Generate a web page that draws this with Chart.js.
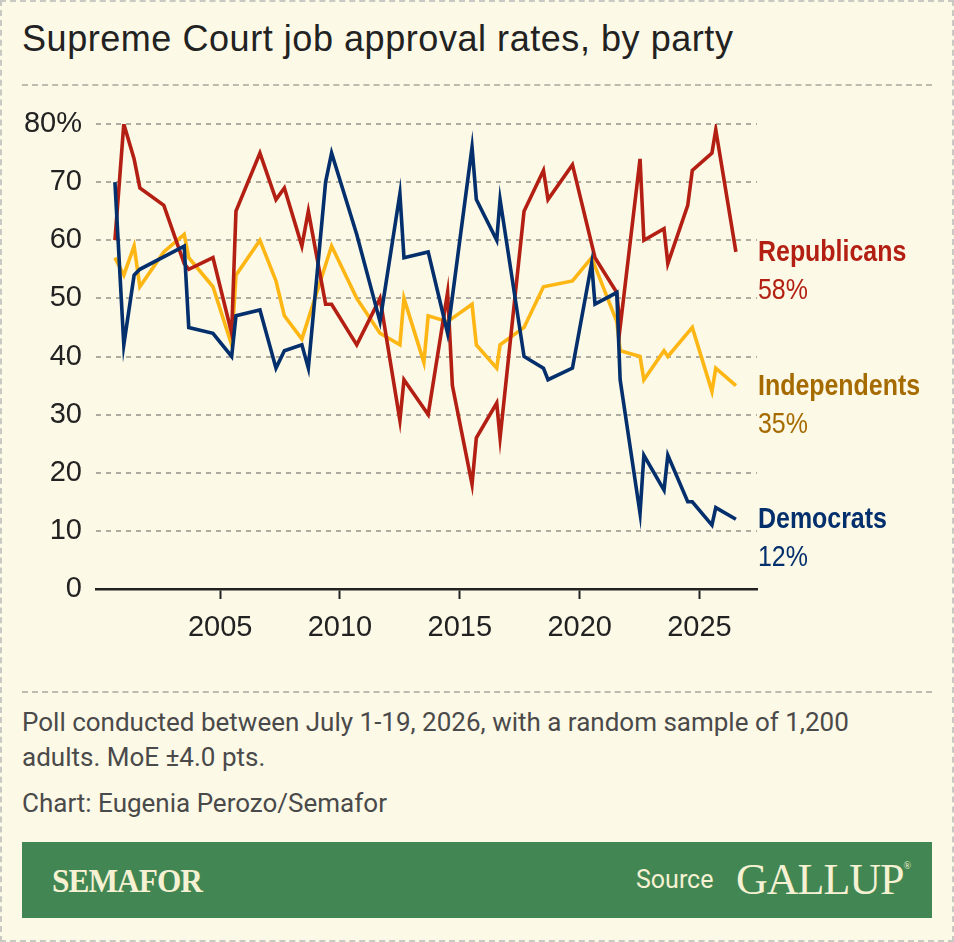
<!DOCTYPE html>
<html>
<head>
<meta charset="utf-8">
<script src="https://cdn.jsdelivr.net/npm/chart.js@4.4.1/dist/chart.umd.min.js"></script>
<style>
  html, body { margin: 0; padding: 0; }
  body { width: 954px; height: 942px; background: #fcf9e6; position: relative; overflow: hidden; }
  .frame { position: absolute; left: 0; top: 0; width: 954px; height: 942px; box-sizing: border-box; border: 2px dashed #c9c9c4; }
  .title { position: absolute; left: 22px; top: 18px; font-family: "Liberation Sans", Arial, sans-serif; font-size: 36px; letter-spacing: 0.55px; color: #222; white-space: nowrap; }
  .rule { position: absolute; left: 22px; width: 910px; height: 0; border-top: 2px dashed #bdbab0; }
  .note { position: absolute; left: 22px; font-family: Roboto, sans-serif; font-size: 26px; color: #4a4a4a; white-space: nowrap; }
  #wrap { position: absolute; left: 0; top: 100px; width: 954px; height: 560px; }
  .banner { position: absolute; left: 22px; top: 842px; width: 910px; height: 76px; background: #428753; }
  .logo { position: absolute; left: 30px; top: 20px; font-family: "Liberation Serif", serif; font-weight: bold; font-size: 34px; color: #f6f1d3; letter-spacing: -1px; transform: scaleX(0.92); transform-origin: left center; }
  .src { position: absolute; left: 614px; top: 23px; font-family: Roboto, sans-serif; font-size: 25px; color: #f6f1d3; }
  .gallup { position: absolute; left: 714px; top: 12px; font-family: "Liberation Serif", serif; font-size: 44px; color: #f6f1d3; letter-spacing: -1px; }
  .gallup sup { font-size: 10px; vertical-align: top; position: relative; top: 6px; }
</style>
</head>
<body>
<div class="frame"></div>
<div class="title">Supreme Court job approval rates, by party</div>
<div class="rule" style="top:84px"></div>
<div id="wrap"><canvas id="approvalChart"></canvas></div>
<div class="rule" style="top:691px"></div>
<div class="note" style="top:707px">Poll conducted between July 1-19, 2026, with a random sample of 1,200</div>
<div class="note" style="top:742px">adults. MoE ±4.0 pts.</div>
<div class="note" style="top:788px">Chart: Eugenia Perozo/Semafor</div>
<div class="banner">
  <div class="logo">SEMAFOR</div>
  <div class="src">Source</div>
  <div class="gallup">GALLUP<sup>®</sup></div>
</div>
<script>
// poll dates (decimal years) and approval by party
const pollDates = [
  2000.61, 2000.98, 2001.41, 2001.65, 2002.65, 2003.50, 2003.69, 2004.70,
  2005.48, 2005.66, 2006.66, 2007.33, 2007.68, 2008.41, 2008.68, 2009.40,
  2009.65, 2010.70, 2011.67, 2012.50, 2012.67, 2013.50, 2013.68, 2014.49,
  2014.69, 2015.51, 2015.69, 2016.54, 2016.68, 2017.68, 2018.49, 2018.68,
  2019.70, 2020.50, 2020.64, 2021.55, 2021.69, 2022.52, 2022.68, 2023.52,
  2023.68, 2024.51, 2024.70, 2025.52, 2025.68, 2026.52
];
const republicans = [
  60, 80, 74, 69, 66, 56, 55, 57,
  44, 65, 75, 67, 69, 59, 65, 49,
  49, 42, 50, 29, 36, null, 30, 51,
  35, 18, 26, 32, 26, 65, 72, 67,
  73, null, 57, 51, 45, 74, 60, 62,
  56, 66, 72, 75, 79, 58
];
const independents = [
  57, 54, 59, 52, 58, 61, 57, 52,
  42, 54, 60, 53, 47, 43, null, null,
  59, 50, 44, 42, 50, 39, 47, 46,
  null, 49, 42, 38, 42, 45, 52, null,
  53, 57, null, 46, 41, 40, 36, 41,
  40, null, 45, 34, 38, 35
];
const democrats = [
  70, 42, 54, 55, null, 59, 45, 44,
  40, 47, 48, 38, 41, 42, 38, 70,
  75, 61, 46, 68, 57, null, 58, 44,
  null, 76, 67, 60, 67, 40, 38, 36,
  38, 56, 49, 51, 36, 13, 23, 17,
  23, 15, 15, 11, 14, 12
];
const seriesNames = ['Republicans', 'Independents', 'Democrats'];
const lineColors = ['#b31f12', '#fdb614', '#032f6d'];
const labelColors = ['#b31f12', '#a66b00', '#032f6d'];
const yearTicks = [2005, 2010, 2015, 2020, 2025];

const fontFamily = '"Liberation Sans", Arial, sans-serif';

function toPoints(values) {
  return pollDates.map((d, i) => ({ x: d, y: values[i] }));
}

// draws the party name and latest value at the end of each line (squeezed a bit, the original face is condensed)
const endLabels = {
  id: 'endLabels',
  afterDatasetsDraw(chart) {
    const { ctx, chartArea, scales } = chart;
    chart.data.datasets.forEach((ds, i) => {
      const last = ds.data[ds.data.length - 1].y;
      const py = scales.y.getPixelForValue(last);
      ctx.save();
      ctx.translate(chartArea.right + 1, py);
      ctx.scale(0.86, 1);
      ctx.textBaseline = 'middle';
      ctx.fillStyle = labelColors[i];
      ctx.font = 'bold 29px ' + fontFamily;
      ctx.fillText(seriesNames[i], 0, 1);
      ctx.font = '29px ' + fontFamily;
      ctx.fillText(last + '%', 0, 39);
      ctx.restore();
    });
  }
};

const ctx = document.getElementById('approvalChart').getContext('2d');
new Chart(ctx, {
  type: 'line',
  data: {
    datasets: [
      { label: seriesNames[0], data: toPoints(republicans), borderColor: lineColors[0], order: 2 },
      { label: seriesNames[1], data: toPoints(independents), borderColor: lineColors[1], order: 3 },
      { label: seriesNames[2], data: toPoints(democrats), borderColor: lineColors[2], order: 1 },
    ],
  },
  options: {
    responsive: true,
    maintainAspectRatio: false,
    animation: false,
    spanGaps: true,
    elements: {
      line: { borderWidth: 3.6, tension: 0, fill: false, borderJoinStyle: 'miter' },
      point: { radius: 0 },
    },
    layout: { padding: { top: 24, right: 197, left: 0, bottom: 0 } },
    scales: {
      x: {
        type: 'linear',
        min: 1999.82,
        max: 2027.4,
        afterBuildTicks: (scale) => { scale.ticks = yearTicks.map(v => ({ value: v })); },
        afterFit: (scale) => { scale.height = 71; },
        ticks: {
          callback: (v) => String(v),
          color: '#222',
          font: { family: fontFamily, size: 29 },
          padding: 12,
          maxRotation: 0,
        },
        grid: { drawOnChartArea: false, drawTicks: true, tickLength: 10, tickColor: '#222', tickWidth: 2 },
        border: { display: true, color: '#222', width: 2.5 },
      },
      y: {
        min: 0,
        max: 80,
        afterFit: (scale) => {
          scale.width = 96;
          scale.paddingTop = 0;
          scale.paddingBottom = 0;
        },
        ticks: {
          stepSize: 10,
          callback: (v) => (v === 80 ? '80%' : v),
          color: '#222',
          font: { family: fontFamily, size: 29 },
          padding: 14,
        },
        grid: {
          drawTicks: false,
          color: (c) => (c.tick.value === 0 ? 'rgba(0,0,0,0)' : '#aeaba0'),
          lineWidth: 2,
        },
        border: { display: false, dash: [5, 5] },
      },
    },
    plugins: {
      legend: { display: false },
      tooltip: { enabled: false },
    },
  },
  plugins: [endLabels],
});
</script>
</body>
</html>
